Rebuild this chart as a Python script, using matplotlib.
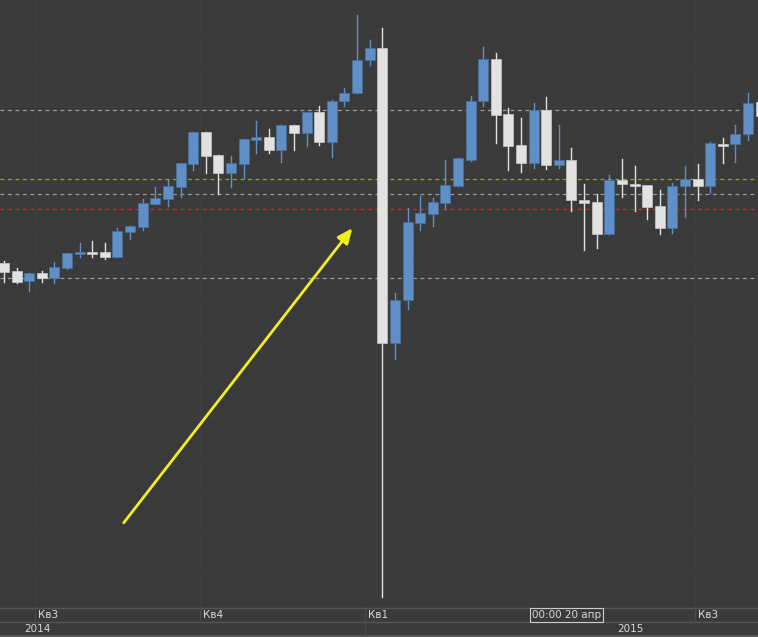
import matplotlib
matplotlib.use("Agg")
import matplotlib.pyplot as plt
from matplotlib.patches import Rectangle

# candle values (vertical screen levels, smaller = higher price)
opens = [263, 271, 281, 273, 278, 268, 254, 252, 252, 257, 232, 227, 204, 199, 187, 164,
         132, 155, 173, 164, 140, 137, 150, 125, 133, 112, 142, 101, 93, 60,
         48, 343, 300, 223, 214, 203, 186, 160, 101, 59, 114, 145, 163,
         110, 165, 160, 200, 202, 234, 180, 184, 185, 206, 228, 186, 179, 186, 144, 144, 134, 102]
closes = [272, 282, 273, 278, 267, 253, 252, 252, 257, 231, 226, 203, 198, 186, 163, 132,
          156, 173, 163, 139, 137, 150, 125, 133, 112, 142, 101, 93, 60, 48,
          343, 300, 222, 213, 202, 185, 158, 101, 59, 115, 146, 163, 110,
          165, 160, 200, 203, 234, 180, 184, 186, 207, 228, 186, 179, 186, 143, 145, 134, 103, 116]
highs = [261, 268, 273, 271, 262, 253, 243, 241, 243, 228, 226, 199, 187, 180, 163, 132,
         132, 155, 156, 139, 121, 129, 125, 125, 112, 106, 100, 88, 15, 40,
         28, 293, 208, 196, 198, 160, 158, 96, 47, 53, 108, 118, 103,
         97, 125, 148, 184, 194, 175, 159, 166, 190, 190, 183, 166, 164, 142, 138, 125, 93, 95]
lows = [282, 283, 291, 282, 283, 269, 257, 257, 259, 257, 239, 230, 204, 206, 197, 170,
        173, 194, 187, 178, 153, 153, 162, 150, 146, 145, 157, 106, 93, 65,
        597, 359, 309, 230, 226, 209, 186, 161, 106, 143, 170, 172, 168,
        169, 168, 211, 250, 248, 234, 197, 211, 219, 234, 233, 217, 200, 193, 163, 162, 140, 140]
up = [c < o for o, c in zip(opens, closes)]

ref_grey = [110, 194, 278]
ref_green = 179
ref_red = 209
grid_y = [32, 71, 148, 187, 225, 263, 302, 340, 379, 417, 456, 494, 533, 571]
quarter_x = [35, 200, 365, 530, 695]
quarter_labels = ["Кв3", "Кв4", "Кв1", "", "Кв3"]

BG = "#323232"
BLUE = "#5f8fc6"
WHITE = "#e2e2e2"

fig = plt.figure(figsize=(7.58, 6.37), dpi=100, facecolor="#3a3a3a")
ax = fig.add_axes([0, 30 / 637, 1, 607 / 637])
ax.set_facecolor(BG)
ax.set_xlim(0, 758)
ax.set_ylim(607, 0)
ax.axis("off")

for y in grid_y + ref_grey + [ref_green, ref_red]:
    ax.axhline(y, color="#3e3e3e", lw=0.8, zorder=0)
for x in quarter_x:
    ax.axvline(x, color="#3e3e3e", lw=0.8, zorder=0)
for y in ref_grey:
    ax.axhline(y, color="#9a9a9a", lw=0.9, ls=(0, (3, 3)), zorder=1)
ax.axhline(ref_green, color="#8aa830", lw=0.9, ls=(0, (3, 3)), zorder=1)
ax.axhline(ref_red, color="#d02a3a", lw=0.9, ls=(0, (3, 3)), zorder=1)

x0, step, w = 4, 12.61, 10
for i in range(len(opens)):
    x = x0 + step * i
    col = BLUE if up[i] else WHITE
    ax.plot([x, x], [highs[i], lows[i]], color=col, lw=1, zorder=2)
    top, bot = min(opens[i], closes[i]), max(opens[i], closes[i])
    h = max(bot - top, 2)
    ax.add_patch(Rectangle((x - w / 2, top), w, h, facecolor=col,
                           edgecolor="#4a72a0" if up[i] else "#c8c8c8", lw=0.5, zorder=3))

ax.annotate("", xy=(354, 226), xytext=(122, 525),
            arrowprops=dict(arrowstyle="-|>,head_length=0.9,head_width=0.4",
                            color="#f0f020", lw=2), zorder=5)

# bottom time axis
tax = fig.add_axes([0, 0, 1, 30 / 637])
tax.set_xlim(0, 758)
tax.set_ylim(30, 0)
tax.axis("off")
tax.axhline(0.5, color="#555555", lw=1)
tax.axhline(15, color="#555555", lw=1)
tax.axhline(29, color="#555555", lw=1.5)
for x, lab in zip(quarter_x, quarter_labels):
    tax.plot([x, x], [0, 15], color="#4a4a4a", lw=0.8)
    if lab:
        tax.text(x + 3, 8, lab, color="#d8d8d8", fontsize=7.5, va="center")
tax.plot([365, 365], [15, 30], color="#4a4a4a", lw=0.8)
tax.text(24, 22, "2014", color="#d8d8d8", fontsize=7.5, va="center")
tax.text(617, 22, "2015", color="#d8d8d8", fontsize=7.5, va="center")
tax.text(532, 8, "00:00 20 апр", color="#d8d8d8", fontsize=7.5, va="center",
         bbox=dict(boxstyle="square,pad=0.15", fc="#3a3a3a", ec="#cccccc", lw=0.8))

fig.savefig("out.png", dpi=100, facecolor=fig.get_facecolor())
